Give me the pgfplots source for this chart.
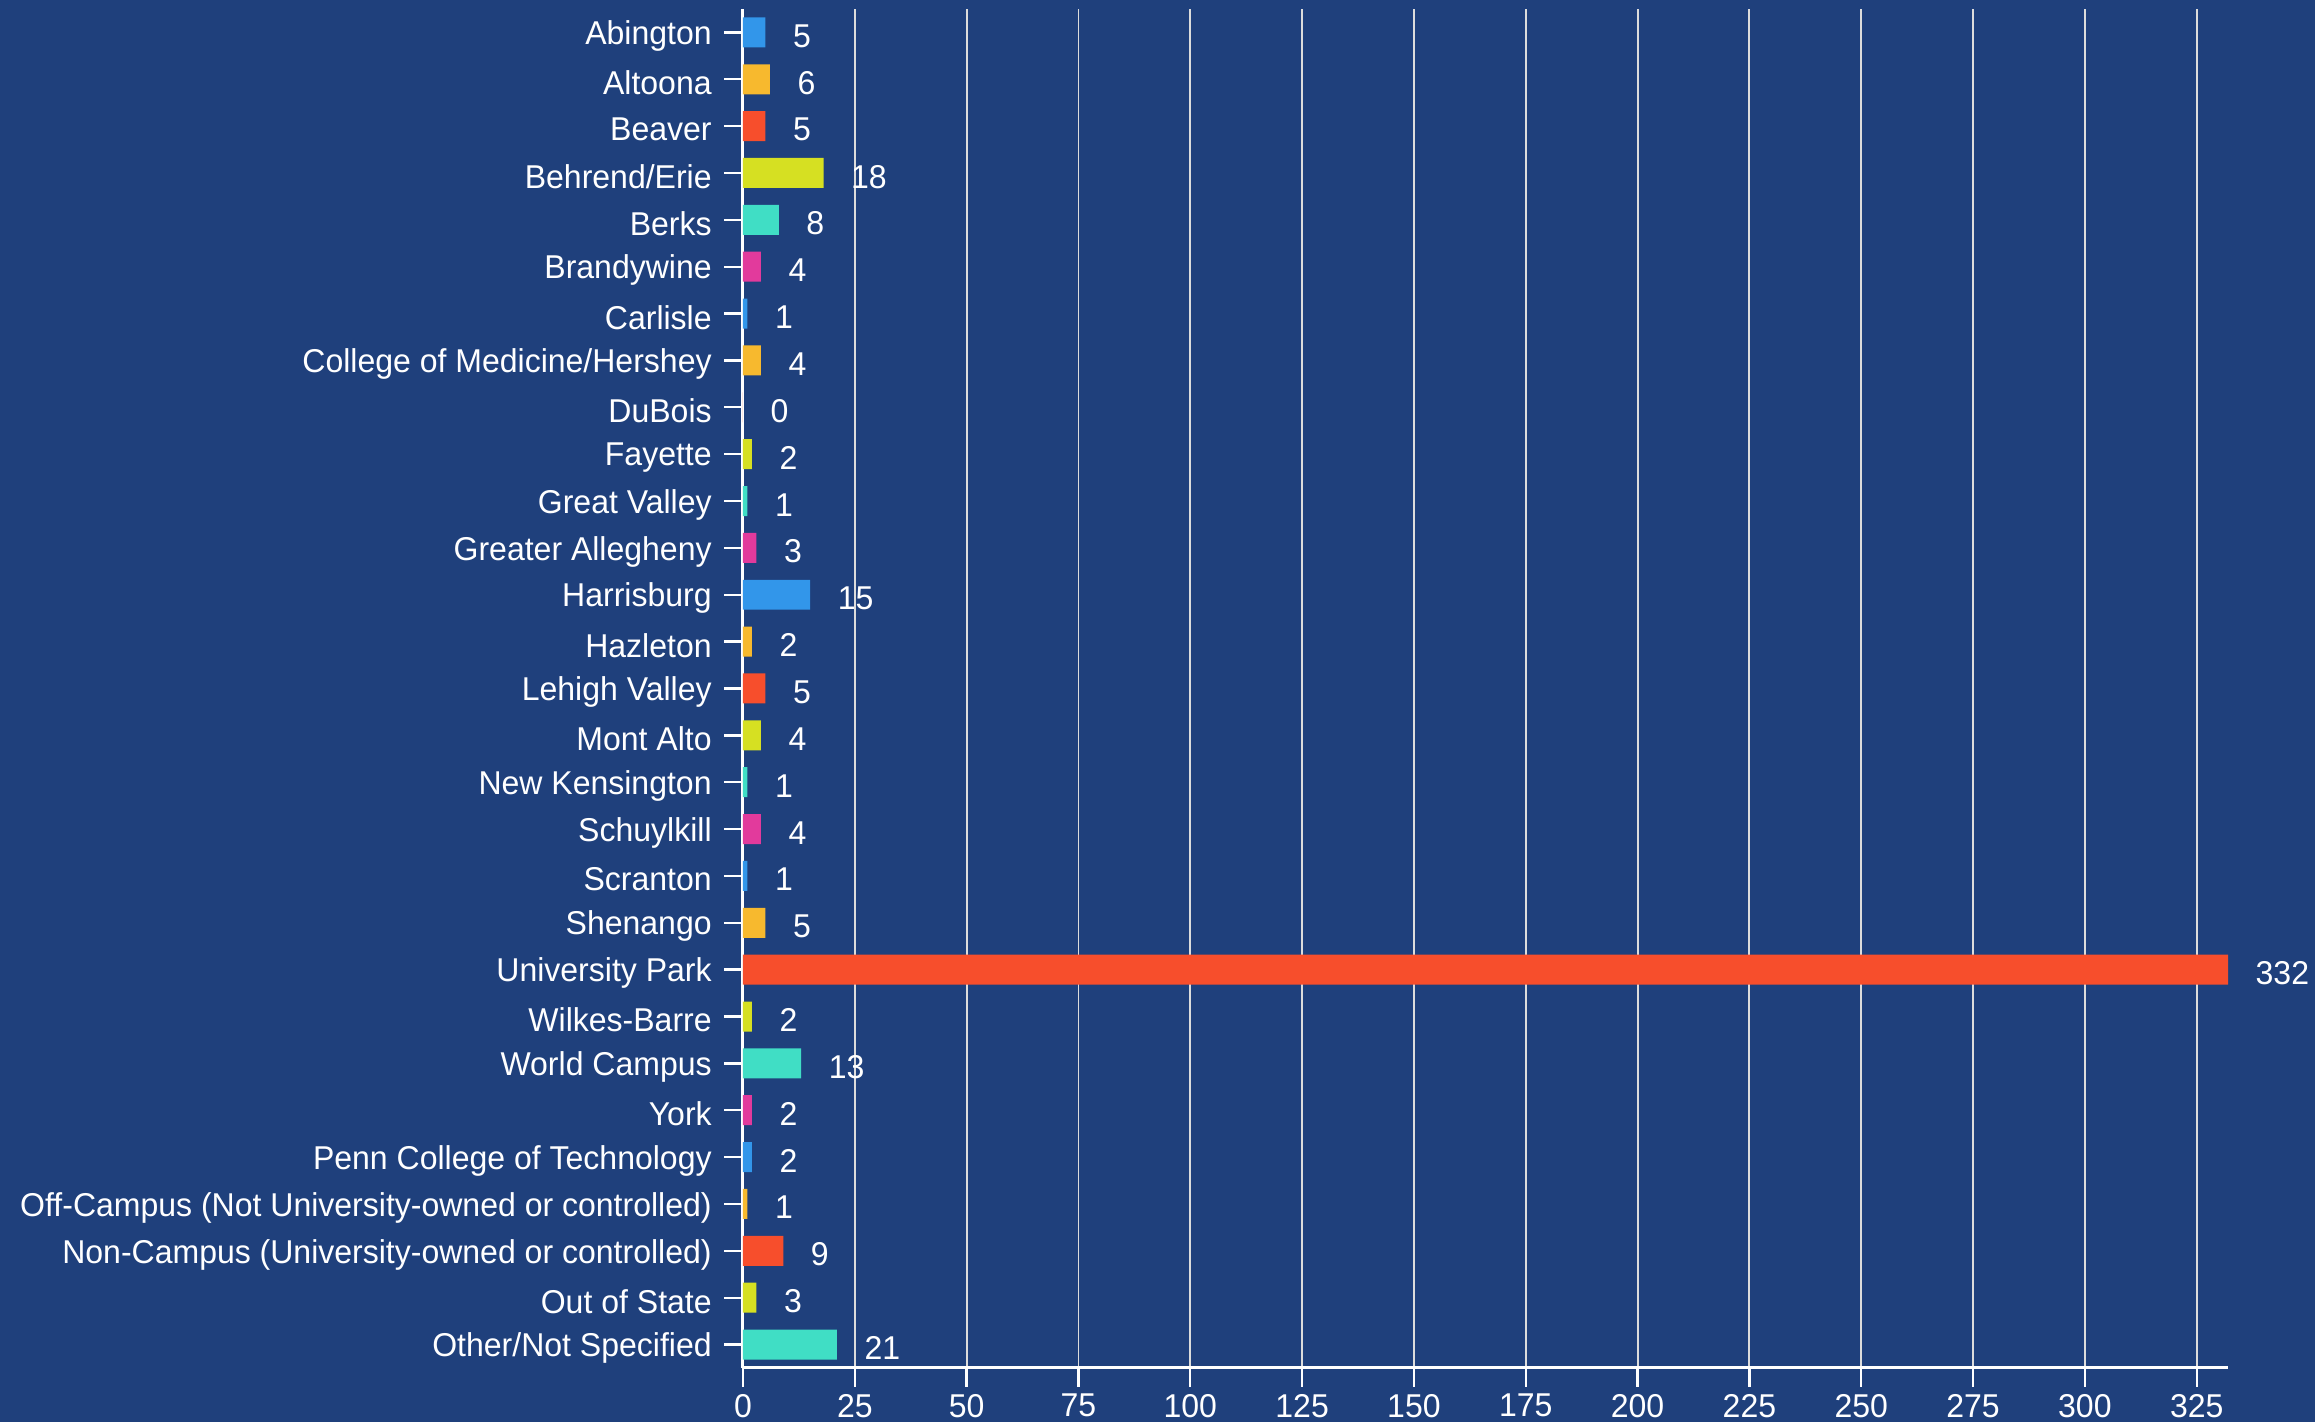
\documentclass[border=0pt]{standalone}
\usepackage{fontspec}
\setmainfont{Liberation Sans}[FakeStretch=0.97]
\usepackage{pgfplots}
\pgfplotsset{compat=1.18}
\usetikzlibrary{backgrounds}
\definecolor{bg}{HTML}{1F407C}
\definecolor{cblue}{HTML}{3296EA}
\definecolor{cyel}{HTML}{F7B92E}
\definecolor{cred}{HTML}{F74E2C}
\definecolor{clime}{HTML}{D6E022}
\definecolor{cteal}{HTML}{40DEC5}
\definecolor{cpink}{HTML}{E23A9C}
\definecolor{gridc}{HTML}{DCDCDC}
\newcommand{\lblfont}{\fontsize{9.9pt}{11pt}\selectfont}
\begin{document}
\begin{tikzpicture}
\begin{axis}[
  scale only axis,
  width=445.5pt, height=407.7pt,
  xbar, bar width=0.64, bar shift=0pt,
  xmin=0, xmax=332,
  ymin=-0.5, ymax=28.5,
  axis x line*=bottom, axis y line*=left,
  x axis line style={-, white, line width=0.9pt},
  y axis line style={-, white, line width=0.9pt},
  xtick={0,25,...,325},
  ytick={0,...,28},
  yticklabels={Other/Not Specified, Out of State, Non-Campus (University-owned or controlled), Off-Campus (Not University-owned or controlled), Penn College of Technology, York, World Campus, Wilkes-Barre, University Park, Shenango, Scranton, Schuylkill, New Kensington, Mont Alto, Lehigh Valley, Hazleton, Harrisburg, Greater Allegheny, Great Valley, Fayette, DuBois, College of Medicine/Hershey, Carlisle, Brandywine, Berks, Behrend/Erie, Beaver, Altoona, Abington},
  tick align=outside,
  major tick length=5.6pt,
  tick style={white, line width=0.7pt},
  xmajorgrids,
  major grid style={gridc, line width=0.55pt},
  /pgf/number format/assume math mode=true,
  tick label style={font=\lblfont, text=white},
  yticklabel style={inner sep=0pt, xshift=-3.6pt, yshift=-1.1pt},
  xticklabel style={inner sep=0pt, yshift=-2.0pt, anchor=north},
  nodes near coords,
  every node near coord/.append style={font=\lblfont, text=white, anchor=west, inner sep=0pt, xshift=8.1pt, yshift=-1.1pt},
  clip=false,
]
\addplot[fill=cblue, draw=none] coordinates {(5,28) (1,22) (15,16) (1,10) (2,4)};
\addplot[fill=cyel, draw=none] coordinates {(6,27) (4,21) (2,15) (5,9) (1,3)};
\addplot[fill=cred, draw=none] coordinates {(5,26) (0,20) (5,14) (332,8) (9,2)};
\addplot[fill=clime, draw=none] coordinates {(18,25) (2,19) (4,13) (2,7) (3,1)};
\addplot[fill=cteal, draw=none] coordinates {(8,24) (1,18) (1,12) (13,6) (21,0)};
\addplot[fill=cpink, draw=none] coordinates {(4,23) (3,17) (4,11) (2,5)};
\end{axis}
\begin{scope}[on background layer]
\fill[bg] ([xshift=-222.9pt,yshift=-16.2pt]current axis.south west) rectangle ([xshift=26.1pt,yshift=2.7pt]current axis.north east);
\end{scope}
\end{tikzpicture}
\end{document}
